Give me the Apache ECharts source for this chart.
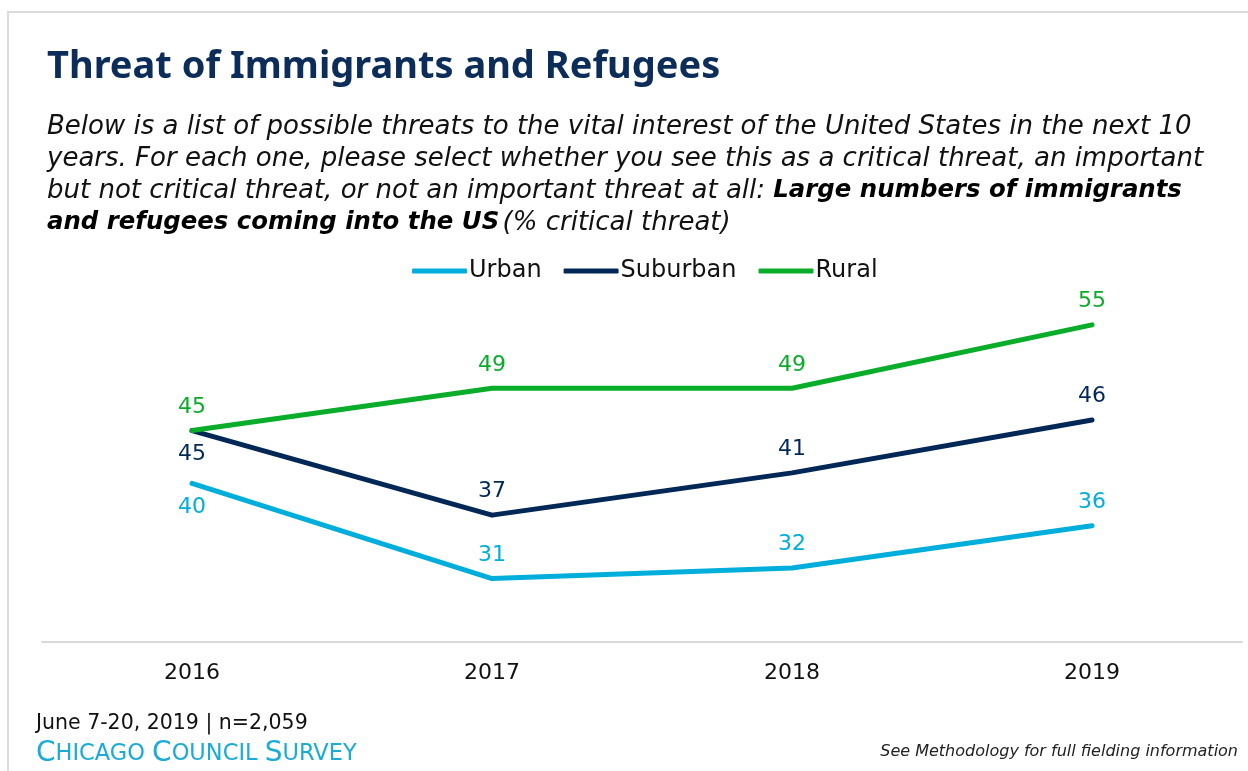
<!DOCTYPE html>
<html>
<head>
<meta charset="UTF-8">
<title>Threat of Immigrants and Refugees</title>
<script src="https://cdn.jsdelivr.net/npm/echarts@6/dist/echarts.min.js"></script>
<style>
html, body { margin: 0; padding: 0; background: #fff; }
#chart { width: 1248px; height: 771px; }
</style>
</head>
<body>
<div id="chart"></div>
<script>
// data
var years = ['2016', '2017', '2018', '2019'];
var urban = [40, 31, 32, 36];
var suburban = [45, 37, 41, 46];
var rural = [45, 49, 49, 55];

var FONT = '"DejaVu Sans", sans-serif';
var TITLE_FONT = '"Noto Sans", sans-serif';

// points whose label sits under the line
function labelled(values, belowIdx) {
	return values.map(function (v, i) {
		return {
			value: v,
			label: { position: belowIdx.indexOf(i) >= 0 ? 'bottom' : 'top' }
		};
	});
}

function lineSeries(name, values, color, belowIdx) {
	return {
		name: name,
		type: 'line',
		data: labelled(values, belowIdx),
		symbol: 'circle',
		symbolSize: 1,
		itemStyle: { color: color },
		lineStyle: { color: color, width: 5, cap: 'round', join: 'round' },
		label: {
			show: true,
			color: color,
			fontFamily: FONT,
			fontSize: 22,
			distance: 12
		},
		emphasis: { disabled: true },
		animation: false
	};
}

var option = {
	animation: false,
	graphic: [
		{
			type: 'rect',
			shape: { x: 8, y: 12, width: 1300, height: 800 },
			style: { fill: 'none', stroke: '#dcdcdc', lineWidth: 2 },
			silent: true
		},
		{
			type: 'text',
			left: 47, top: 48,
			style: {
				text: 'Threat of Immigrants and Refugees',
				font: 'bold 38px ' + TITLE_FONT,
				fill: '#0c2d5a'
			}
		},
		{
			type: 'text',
			left: 47, top: 114,
			style: {
				text: '{i|Below is a list of possible threats to the vital interest of the United States in the next 10}\n' +
					'{i|years. For each one, please select whether you see this as a critical threat, an important}\n' +
					'{i|but not critical threat, or not an important threat at all: }{b|Large numbers of immigrants}\n' +
					'{b|and refugees coming into the US} {i|(% critical threat)}',
				rich: {
					i: { font: 'italic 26px ' + FONT, fill: '#111', lineHeight: 32 },
					b: { font: 'italic bold 24.4px ' + FONT, fill: '#000', lineHeight: 32 }
				}
			}
		},
		{
			type: 'text',
			left: 36, top: 713,
			style: {
				text: 'June 7-20, 2019 | n=2,059',
				font: '20.5px ' + FONT,
				fill: '#111'
			}
		},
		{
			type: 'text',
			left: 36, top: 740,
			style: {
				text: '{c|C}{s|HICAGO }{c|C}{s|OUNCIL }{c|S}{s|URVEY}',
				rich: {
					c: { font: '28px ' + FONT, fill: '#1aabd8' },
					s: { font: '22.5px ' + FONT, fill: '#1aabd8' }
				}
			}
		},
		{
			type: 'text',
			right: 10, top: 744,
			style: {
				text: 'See Methodology for full fielding information',
				font: 'italic 16px ' + FONT,
				fill: '#222'
			}
		}
	],
	legend: {
		top: 254,
		left: 407,
		icon: 'roundRect',
		itemWidth: 55,
		itemHeight: 5,
		itemGap: 22,
		textStyle: { fontFamily: FONT, fontSize: 24, color: '#111', padding: [0, 0, 0, -3] },
		data: ['Urban', 'Suburban', 'Rural']
	},
	grid: { left: 42, right: 6, top: 272, bottom: 129 },
	xAxis: {
		type: 'category',
		data: years,
		boundaryGap: true,
		axisLine: { lineStyle: { color: '#d9d9d9', width: 2 } },
		axisTick: { show: false },
		axisLabel: { color: '#111', fontFamily: FONT, fontSize: 22, margin: 20 }
	},
	yAxis: {
		type: 'value',
		min: 25,
		max: 60,
		show: false,
		splitLine: { show: false }
	},
	series: [
		lineSeries('Urban', urban, '#00aedb', [0]),
		lineSeries('Suburban', suburban, '#002856', [0]),
		lineSeries('Rural', rural, '#0aad2a', [])
	]
};

var chart = echarts.init(document.getElementById('chart'), null, { renderer: 'canvas' });
chart.setOption(option);
</script>
</body>
</html>
